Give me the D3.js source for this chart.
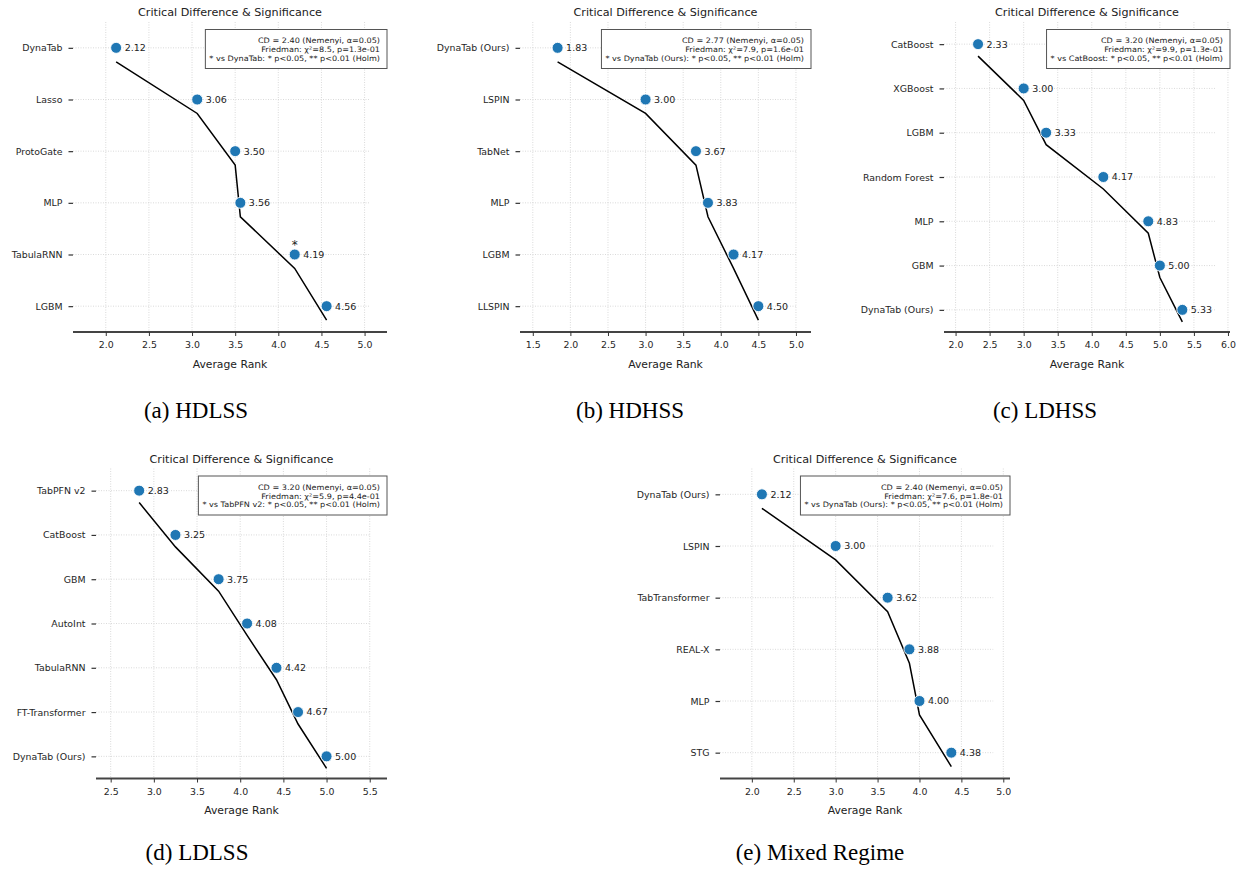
<!DOCTYPE html>
<html><head><meta charset="utf-8">
<script src="https://cdn.jsdelivr.net/npm/d3@7"></script>
<style>
html,body{margin:0;padding:0;background:#fff;}
svg{display:block;}
</style></head>
<body>
<svg id="chart" width="1241" height="869"></svg>
<script>
// ---------------- data ----------------
const hdlssModels = ["DynaTab","Lasso","ProtoGate","MLP","TabulaRNN","LGBM"];
const hdlssRanks  = [2.12,3.06,3.50,3.56,4.19,4.56];
const hdlssSig    = ["","","","","*",""];
const hdlssTicks  = [2.0,2.5,3.0,3.5,4.0,4.5,5.0];
const hdlssStats  = ["CD = 2.40 (Nemenyi, α=0.05)","Friedman: χ²=8.5, p=1.3e-01","* vs DynaTab: * p<0.05, ** p<0.01 (Holm)"];

const hdhssModels = ["DynaTab (Ours)","LSPIN","TabNet","MLP","LGBM","LLSPIN"];
const hdhssRanks  = [1.83,3.00,3.67,3.83,4.17,4.50];
const hdhssSig    = ["","","","","",""];
const hdhssTicks  = [1.5,2.0,2.5,3.0,3.5,4.0,4.5,5.0];
const hdhssStats  = ["CD = 2.77 (Nemenyi, α=0.05)","Friedman: χ²=7.9, p=1.6e-01","* vs DynaTab (Ours): * p<0.05, ** p<0.01 (Holm)"];

const ldhssModels = ["CatBoost","XGBoost","LGBM","Random Forest","MLP","GBM","DynaTab (Ours)"];
const ldhssRanks  = [2.33,3.00,3.33,4.17,4.83,5.00,5.33];
const ldhssSig    = ["","","","","","",""];
const ldhssTicks  = [2.0,2.5,3.0,3.5,4.0,4.5,5.0,5.5,6.0];
const ldhssStats  = ["CD = 3.20 (Nemenyi, α=0.05)","Friedman: χ²=9.9, p=1.3e-01","* vs CatBoost: * p<0.05, ** p<0.01 (Holm)"];

const ldlssModels = ["TabPFN v2","CatBoost","GBM","AutoInt","TabulaRNN","FT-Transformer","DynaTab (Ours)"];
const ldlssRanks  = [2.83,3.25,3.75,4.08,4.42,4.67,5.00];
const ldlssSig    = ["","","","","","",""];
const ldlssTicks  = [2.5,3.0,3.5,4.0,4.5,5.0,5.5];
const ldlssStats  = ["CD = 3.20 (Nemenyi, α=0.05)","Friedman: χ²=5.9, p=4.4e-01","* vs TabPFN v2: * p<0.05, ** p<0.01 (Holm)"];

const mixedModels = ["DynaTab (Ours)","LSPIN","TabTransformer","REAL-X","MLP","STG"];
const mixedRanks  = [2.12,3.00,3.62,3.88,4.00,4.38];
const mixedSig    = ["","","","","",""];
const mixedTicks  = [2.0,2.5,3.0,3.5,4.0,4.5,5.0];
const mixedStats  = ["CD = 2.40 (Nemenyi, α=0.05)","Friedman: χ²=7.6, p=1.8e-01","* vs DynaTab (Ours): * p<0.05, ** p<0.01 (Holm)"];

const panelTitle = "Critical Difference & Significance";
const xAxisLabel = "Average Rank";
const captions = ["(a) HDLSS","(b) HDHSS","(c) LDHSS","(d) LDLSS","(e) Mixed Regime"];

// ---------------- layout ----------------
const svg = d3.select("#chart");
const FONT = "DejaVu Sans, Verdana, sans-serif";
const panels = [
  {models:hdlssModels, ranks:hdlssRanks, sig:hdlssSig, ticks:hdlssTicks, stats:hdlssStats, box:{l:73,r:387,t:22,b:332}, cap:{x:196,y:410}},
  {models:hdhssModels, ranks:hdhssRanks, sig:hdhssSig, ticks:hdhssTicks, stats:hdhssStats, box:{l:520,r:811,t:22,b:332}, cap:{x:630,y:410}},
  {models:ldhssModels, ranks:ldhssRanks, sig:ldhssSig, ticks:ldhssTicks, stats:ldhssStats, box:{l:944,r:1230,t:22,b:332}, cap:{x:1045,y:410}},
  {models:ldlssModels, ranks:ldlssRanks, sig:ldlssSig, ticks:ldlssTicks, stats:ldlssStats, box:{l:96,r:387,t:468.5,b:778.5}, cap:{x:197,y:852}},
  {models:mixedModels, ranks:mixedRanks, sig:mixedSig, ticks:mixedTicks, stats:mixedStats, box:{l:720,r:1010,t:468.5,b:778.5}, cap:{x:820,y:852}}
];

panels.forEach((p, pi) => {
  const b = p.box;
  const n = p.models.length;
  const rMin = d3.min(p.ranks), rMax = d3.max(p.ranks);
  const x = d3.scaleLinear().domain([rMin - 0.5, rMax + 0.7]).range([b.l, b.r]);
  const y = d3.scaleLinear().domain([-0.5, n - 0.5]).range([b.t, b.b]);
  const g = svg.append("g");

  // vertical grid
  g.selectAll("line.vg").data(p.ticks).join("line")
    .attr("x1", d => x(d)).attr("x2", d => x(d))
    .attr("y1", b.t).attr("y2", b.b)
    .attr("stroke", "#d0d0d0").attr("stroke-width", 0.8).attr("stroke-dasharray", "1,1.5");
  // horizontal grid lines (to max + 0.5)
  g.selectAll("line.hg").data(p.models).join("line")
    .attr("x1", x(rMin - 0.5)).attr("x2", x(rMax + 0.5))
    .attr("y1", (d,i) => y(i)).attr("y2", (d,i) => y(i))
    .attr("stroke", "#d0d0d0").attr("stroke-width", 0.8).attr("stroke-dasharray", "1,1.5");

  // connecting line (offset below)
  const line = d3.line().x(d => x(d[0])).y(d => y(d[1] + 0.27));
  g.append("path").datum(p.ranks.map((r,i) => [r,i]))
    .attr("d", line).attr("fill", "none").attr("stroke", "#000").attr("stroke-width", 1.5);

  // dots
  g.selectAll("circle.dot").data(p.ranks).join("circle")
    .attr("cx", d => x(d)).attr("cy", (d,i) => y(i)).attr("r", 5.5)
    .attr("fill", "#1f77b4").attr("stroke", "#fff").attr("stroke-width", 0.9);
  // value labels
  g.selectAll("text.val").data(p.ranks).join("text")
    .attr("x", d => x(d) + 8.5).attr("y", (d,i) => y(i)).attr("dy", "0.36em")
    .attr("font-family", FONT).attr("font-size", 9.5).attr("fill", "#222")
    .text(d => d.toFixed(2));
  // significance marks
  g.selectAll("text.sig").data(p.sig).join("text")
    .attr("x", (d,i) => x(p.ranks[i])).attr("y", (d,i) => y(i) - 6)
    .attr("text-anchor", "middle")
    .attr("font-family", FONT).attr("font-size", 12).attr("fill", "#222")
    .text(d => d);

  // x axis
  const xAxis = d3.axisBottom(x).tickValues(p.ticks).tickFormat(d3.format(".1f")).tickSize(4).tickPadding(4);
  const xa = g.append("g").attr("transform", `translate(0,${b.b})`).call(xAxis);
  xa.select(".domain").attr("stroke", "#444").attr("stroke-width", 1.8).attr("d", `M${b.l},0H${b.r}`);
  xa.selectAll(".tick line").attr("stroke", "#333").attr("stroke-width", 1);
  xa.selectAll(".tick text").attr("font-family", FONT).attr("font-size", 9.4).attr("fill", "#262626").attr("dy", "0.9em");

  // y axis (ticks only, no spine)
  const yAxis = d3.axisLeft(y).tickValues(d3.range(n)).tickFormat(i => p.models[i]).tickSize(4.5).tickPadding(6);
  const ya = g.append("g").attr("transform", `translate(${b.l},0)`).call(yAxis);
  ya.select(".domain").remove();
  ya.selectAll(".tick line").attr("stroke", "#333").attr("stroke-width", 1.2);
  ya.selectAll(".tick text").attr("font-family", FONT).attr("font-size", 9.4).attr("fill", "#262626");

  // title
  g.append("text").attr("x", (b.l + b.r) / 2).attr("y", b.t - 10).attr("dy", "0.36em")
    .attr("text-anchor", "middle").attr("font-family", FONT).attr("font-size", 11.2).attr("fill", "#222")
    .text(panelTitle);
  // x label
  g.append("text").attr("x", (b.l + b.r) / 2).attr("y", b.b + 32).attr("dy", "0.36em")
    .attr("text-anchor", "middle").attr("font-family", FONT).attr("font-size", 10.8).attr("fill", "#222")
    .text(xAxisLabel);

  // stats box (text slightly widened to match reference proportions)
  const sx = 1.08;
  const tx = b.r - 7;
  const bx = g.append("g");
  const texts = bx.selectAll("text").data(p.stats).join("text")
    .attr("transform", (d,i) => `translate(${tx},${b.t + 21.3 + i * 8.8}) scale(${sx},1)`)
    .attr("text-anchor", "end").attr("font-family", FONT).attr("font-size", 7.5).attr("fill", "#222")
    .text(d => d);
  let maxW = 0;
  texts.each(function(){ maxW = Math.max(maxW, this.getComputedTextLength() * sx); });
  bx.insert("rect", "text")
    .attr("x", tx - maxW - 4).attr("y", b.t + 7.5)
    .attr("width", maxW + 11).attr("height", 39)
    .attr("fill", "#fff").attr("stroke", "#555").attr("stroke-width", 1);

  // caption
  svg.append("text").attr("x", p.cap.x).attr("y", p.cap.y).attr("dy", "0.35em")
    .attr("text-anchor", "middle").attr("font-family", "Liberation Serif, Times New Roman, serif")
    .attr("font-size", 23).attr("fill", "#000")
    .text(captions[pi]);
});
</script>
</body></html>
